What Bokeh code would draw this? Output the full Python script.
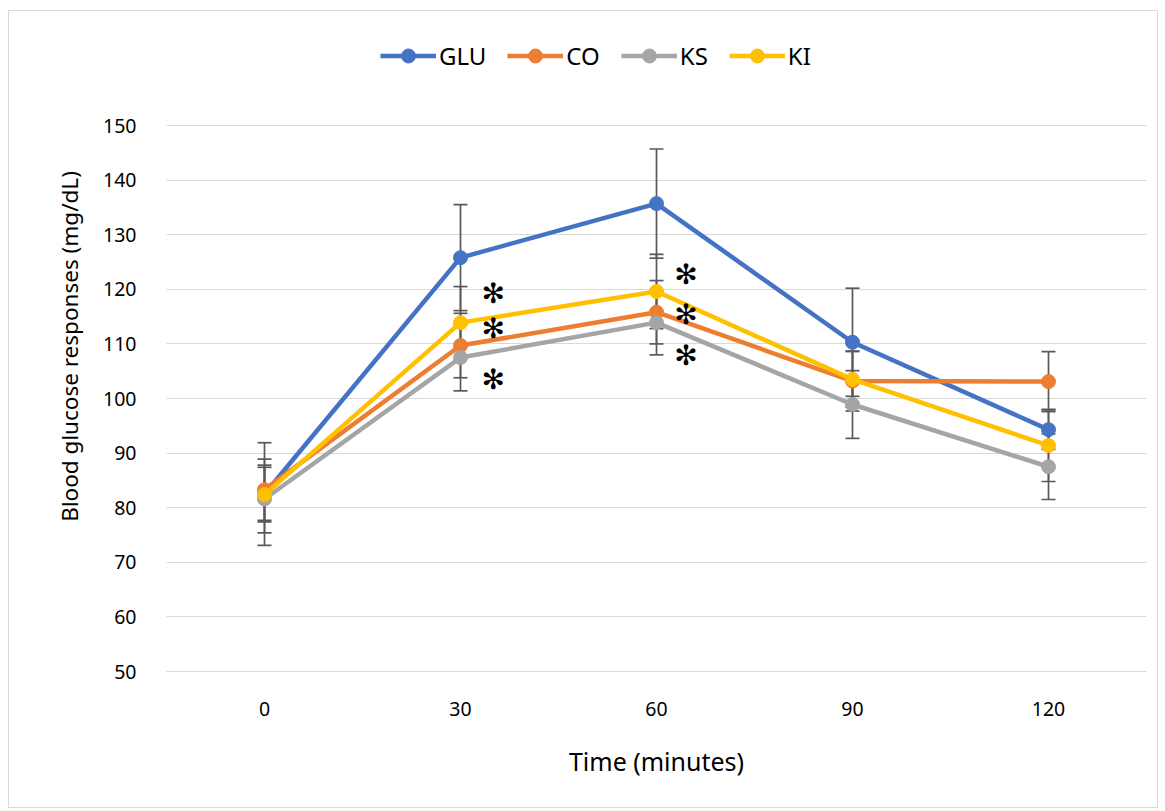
from bokeh.plotting import figure
from bokeh.models import (ColumnDataSource, Whisker, TeeHead, Legend, LegendItem,
                          FixedTicker, Range1d)
from bokeh.core.properties import value
from bokeh.embed import file_html
from bokeh.resources import INLINE

times = [0, 30, 60, 90, 120]
tick_labels = ["0", "30", "60", "90", "120"]
y_ticks = [50, 60, 70, 80, 90, 100, 110, 120, 130, 140, 150]
series_names = ["GLU", "CO", "KS", "KI"]
glu = [82.5, 125.8, 135.7, 110.3, 94.3]
glu_err = [9.4, 9.7, 10.0, 9.9, 3.6]
co = [83.3, 109.7, 115.8, 103.2, 103.1]
co_err = [5.6, 5.9, 5.8, 5.5, 5.5]
ks = [81.6, 107.5, 113.9, 98.9, 87.5]
ks_err = [6.2, 6.1, 5.9, 6.2, 6.0]
ki = [82.4, 113.9, 119.6, 103.5, 91.4]
ki_err = [5.0, 6.6, 6.8, 5.1, 6.6]
star_x = [35, 35, 35, 64.5, 64.5, 64.5]
star_y = [119.2, 112.8, 103.5, 122.7, 115.4, 107.9]

colors = ["#4472C4", "#ED7D31", "#A5A5A5", "#FFC000"]
values = [glu, co, ks, ki]
errors = [glu_err, co_err, ks_err, ki_err]

FONT = "Noto Sans"

# y range extends above 150 to leave room for the legend inside the frame
p = figure(width=1150, height=798, output_backend="svg", toolbar_location=None,
           x_range=Range1d(-15, 135), y_range=Range1d(50, 169.05),
           min_border_left=157, min_border_right=13, min_border_top=10,
           min_border_bottom=138)
p.styles = {"border": "1px solid #d9d9d9", "margin-left": "8px", "margin-top": "10px"}
p.outline_line_color = None
p.background_fill_color = "white"
p.border_fill_color = "white"

p.xaxis.ticker = FixedTicker(ticks=times)
p.xaxis.major_label_overrides = {t: l for t, l in zip(times, tick_labels)}
p.yaxis.ticker = FixedTicker(ticks=y_ticks)
p.xgrid.grid_line_color = None
p.ygrid.grid_line_color = "#d9d9d9"
p.ygrid.grid_line_width = 1

for ax in (p.xaxis[0], p.yaxis[0]):
    ax.major_tick_line_color = None
    ax.minor_tick_line_color = None
    ax.major_tick_out = 0
    ax.major_tick_in = 0
    ax.minor_tick_out = 0
    ax.major_label_text_font = FONT
    ax.major_label_text_font_size = "19.5px"
    ax.major_label_text_color = "#000000"
    ax.axis_label_text_font = FONT
    ax.axis_label_text_font_style = "normal"
    ax.axis_label_text_color = "#000000"
p.xaxis.axis_label_text_font_size = "25px"
p.yaxis.axis_label_text_font_size = "22.5px"
p.yaxis.axis_line_color = None
p.xaxis.axis_line_color = "#d9d9d9"
p.xaxis.axis_label = "Time (minutes)"
p.yaxis.axis_label = "Blood glucose responses (mg/dL)"
p.yaxis.major_label_standoff = 30
p.yaxis.axis_label_standoff = 15
p.xaxis.major_label_standoff = 30
p.xaxis.axis_label_standoff = 25

# error bars
for vals, errs in zip(values, errors):
    src = ColumnDataSource(dict(x=times, upper=[v + e for v, e in zip(vals, errs)],
                                lower=[v - e for v, e in zip(vals, errs)]))
    w = Whisker(source=src, base="x", upper="upper", lower="lower",
                line_color="#595959", line_width=1.7,
                upper_head=TeeHead(size=14, line_color="#595959", line_width=1.7),
                lower_head=TeeHead(size=14, line_color="#595959", line_width=1.7),
                level="underlay")
    p.add_layout(w)

items = []
for name, vals, c in zip(series_names, values, colors):
    src = ColumnDataSource(dict(x=times, y=vals))
    l = p.line("x", "y", source=src, line_color=c, line_width=4.5)
    s = p.scatter("x", "y", source=src, size=14, fill_color=c, line_color=c)
    items.append(LegendItem(label=name, renderers=[l, s]))

p.text(x=star_x, y=star_y, text=["\u273b"] * len(star_x), text_font=value("DejaVu Sans"),
       text_font_size="28px", text_align="center", text_baseline="middle",
       text_color="black")

legend = Legend(items=items, orientation="horizontal", location=(214, 598),
                label_text_font=FONT, label_text_font_size="24px",
                label_text_color="#000000", glyph_width=56, glyph_height=35,
                label_standoff=3, spacing=21, padding=0, margin=0,
                border_line_color=None, background_fill_alpha=0)
p.add_layout(legend, "center")

open("out.html", "w").write(file_html(p, INLINE))
